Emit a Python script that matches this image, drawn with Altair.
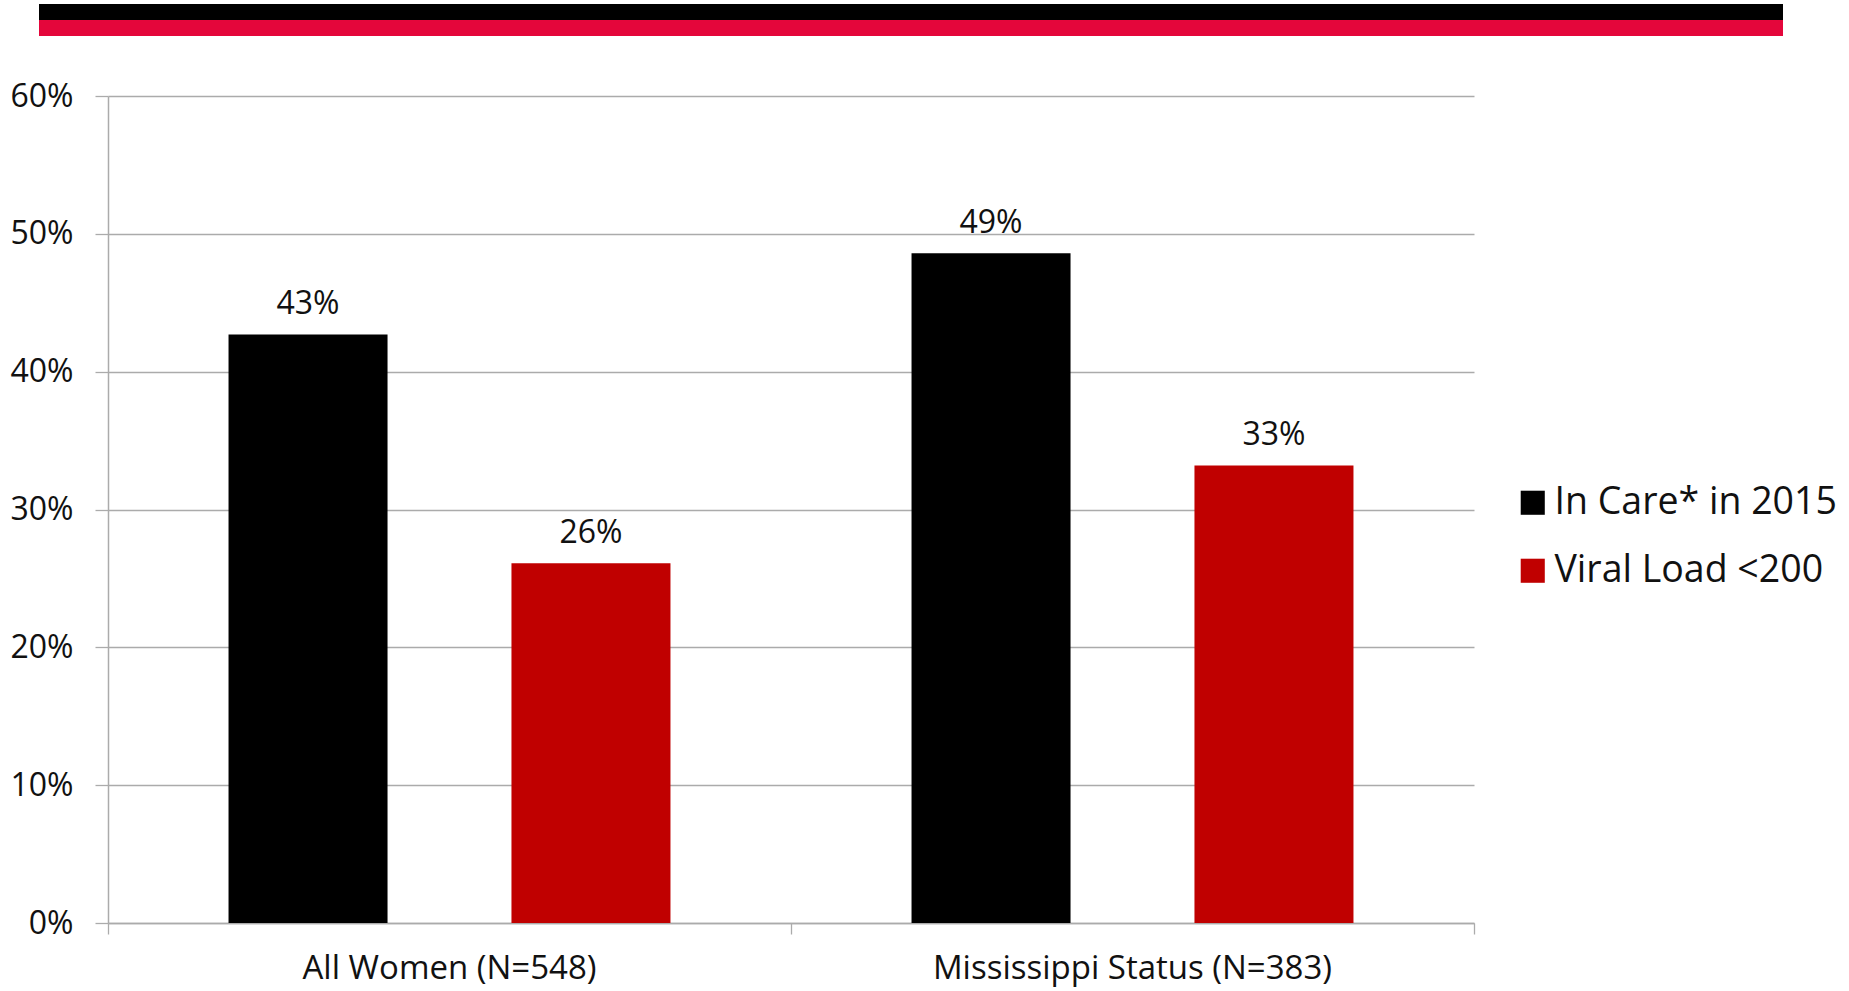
import altair as alt
import pandas as pd

# ---- data ----
categories = ["All Women (N=548)", "Mississippi Status (N=383)"]
series = ["In Care* in 2015", "Viral Load <200"]
in_care = [0.427, 0.486]
viral_load = [0.261, 0.332]
y_ticks = [0, 0.1, 0.2, 0.3, 0.4, 0.5, 0.6]
boundaries = [0, 1, 2]

rows = []
for i, c in enumerate(categories):
    rows.append({"category": c, "series": series[0], "value": in_care[i]})
    rows.append({"category": c, "series": series[1], "value": viral_load[i]})
df = pd.DataFrame(rows)

FONT = "Open Sans"
GRAY = "#ababab"
TEXT = "#111111"

base = alt.Chart(df)

x_axis = alt.Axis(
    title=None, labelAngle=0, ticks=False, tickSize=0, domain=True,
    domainColor=GRAY, domainWidth=1.5, labelFont=FONT, labelFontSize=33,
    labelColor=TEXT, labelPadding=29, orient="bottom", grid=False,
    labelLimit=800,
)
x_scale = alt.Scale(paddingInner=0, paddingOuter=0)
xo_enc = alt.XOffset(
    "series:N", sort=series,
    scale=alt.Scale(paddingInner=0.438, paddingOuter=0.426),
)
y_scale = alt.Scale(domain=[0, 0.6], nice=False)
y_enc = alt.Y(
    "value:Q",
    scale=y_scale,
    axis=alt.Axis(
        title=None, values=y_ticks, format=".0%", grid=True, gridColor=GRAY,
        gridWidth=1.3, domain=True, domainColor=GRAY, domainWidth=1.5,
        ticks=True, tickSize=13, tickColor=GRAY, tickWidth=1.3,
        labelFont=FONT, labelFontSize=32, labelColor=TEXT, labelPadding=22,
    ),
)

bars = base.mark_bar().encode(
    x=alt.X("category:N", sort=categories, scale=x_scale, axis=x_axis),
    xOffset=xo_enc,
    y=y_enc,
    color=alt.Color(
        "series:N", sort=series,
        scale=alt.Scale(domain=series, range=["#000000", "#C00000"]),
        legend=alt.Legend(
            title=None, orient="none", legendX=1406, legendY=388,
            symbolType="square", symbolSize=580, symbolStrokeWidth=0,
            labelFont=FONT, labelFontSize=37.5, labelColor=TEXT,
            labelOffset=3, rowPadding=29, padding=0, labelLimit=600,
        ),
    ),
)

labels = base.mark_text(
    dy=-20, baseline="alphabetic", font=FONT, fontSize=32, color=TEXT
).encode(
    x=alt.X("category:N", sort=categories, scale=x_scale, axis=x_axis),
    xOffset=xo_enc,
    y=alt.Y("value:Q", scale=y_scale),
    text=alt.Text("value:Q", format=".0%"),
)

main = alt.layer(bars, labels)

ticks = alt.Chart(pd.DataFrame({"pos": boundaries})).mark_point(opacity=0).encode(
    x=alt.X(
        "pos:Q",
        scale=alt.Scale(domain=[0, 2], nice=False, zero=False),
        axis=alt.Axis(
            values=boundaries, labels=False, domain=False, grid=False,
            ticks=True, tickSize=11, tickColor=GRAY, tickWidth=1.3,
            orient="bottom", title=None,
        ),
    )
)

deco_df = pd.DataFrame({"k": [0]})
deco_black = alt.Chart(deco_df).mark_rect(color="#000000").encode(
    x=alt.value(-69), x2=alt.value(1675), y=alt.value(-92), y2=alt.value(-76)
)
deco_red = alt.Chart(deco_df).mark_rect(color="#E4063B").encode(
    x=alt.value(-69), x2=alt.value(1675), y=alt.value(-76), y2=alt.value(-60)
)

chart = (
    alt.layer(deco_black, deco_red, main, ticks)
    .resolve_scale(x="independent")
    .properties(
        width=1366,
        height=827,
        autosize=alt.AutoSizeParams(type="none"),
        padding={"left": 108, "top": 96, "right": 375, "bottom": 68},
        background="white",
    )
    .configure_view(stroke=None)
)

chart.save("out.html", embed_options={"renderer": "svg", "actions": False})
